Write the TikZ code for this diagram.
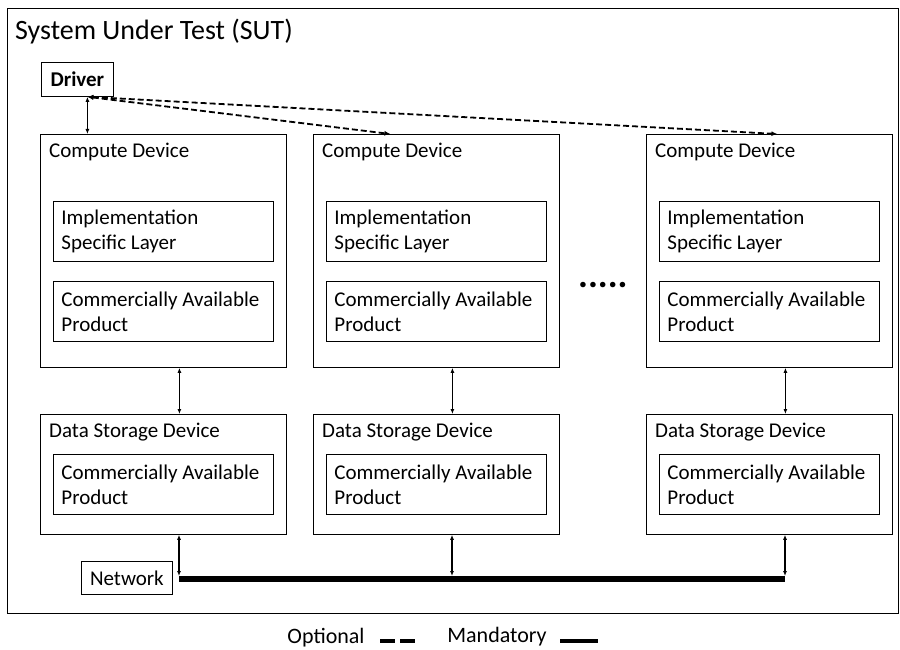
\documentclass[tikz,border=0pt]{standalone}
\usepackage{fontspec}
\setmainfont{Carlito}
\usetikzlibrary{arrows.meta}

\begin{document}
\begin{tikzpicture}[x=1pt, y=-1pt,
    box/.style={draw, line width=0.8pt, rectangle, inner sep=0pt},
    lbl/.style={inner sep=0pt, font=\fontsize{21}{25}\selectfont},
    inbox/.style={draw, line width=0.8pt, minimum width=220pt, minimum height=60pt,
        text width=204pt, align=flush left, inner xsep=8pt, inner ysep=0pt, font=\fontsize{21}{25}\selectfont},
    biarrow/.style={{Latex[length=5pt,width=4pt]}-{Latex[length=5pt,width=4pt]}, line width=1.3pt},
    optional/.style={{Latex[length=6pt,width=5pt]}-{Latex[length=6pt,width=5pt]}, line width=1.8pt, dash pattern=on 6pt off 3pt},
    mandatory/.style={line width=6pt}]
    \useasboundingbox (0,0) rectangle (900,650);

    % frame of the SUT
    \node [box, minimum width=891pt, minimum height=605pt, anchor=north west] (sut) at (7,8) {};
    \node [lbl, anchor=west, font=\fontsize{28}{32}\selectfont] (title) at (15,32) {System Under Test (SUT)};

    \node [box, minimum width=72pt, minimum height=34pt, anchor=north west, font=\bfseries\fontsize{21}{25}\selectfont] (drv) at (41,62) {Driver};
    \coordinate (drvp) at ([xshift=10pt]drv.south);

    \foreach \i/\xl in {1/40, 2/313, 3/646} {
        % compute device
        \node [box, minimum width=246pt, minimum height=233pt, anchor=north west] (cd\i) at (\xl,134) {};
        \node [lbl, anchor=west] (cdt\i) at ([shift={(9pt,-18pt)}]cd\i.north west) {Compute Device};
        \node [inbox, anchor=north west] (isl\i) at ([shift={(13pt,-67pt)}]cd\i.north west) {Implementation\\Specific Layer};
        \node [inbox, anchor=north west] (cap\i) at ([shift={(13pt,-147pt)}]cd\i.north west) {Commercially Available\\Product};
        % data storage device
        \node [box, minimum width=246pt, minimum height=120pt, anchor=north west] (ds\i) at (\xl,414) {};
        \node [lbl, anchor=west] (dst\i) at ([shift={(9pt,-18pt)}]ds\i.north west) {Data Storage Device};
        \node [inbox, anchor=north west] (dcap\i) at ([shift={(13pt,-40pt)}]ds\i.north west) {Commercially Available\\Product};
        \coordinate (n\i) at (\xl+139,579);
        \draw [biarrow] ([xshift=16pt]cd\i.south) -- ([xshift=16pt]ds\i.north);
        \draw [biarrow, shorten >=3pt] (ds\i.south -| n\i) -- (n\i);
    }

    \node [lbl, anchor=base west, font=\bfseries\fontsize{37}{37}\selectfont] (dots) at (578,287) {.....};

    \draw [biarrow] (drvp) -- (drvp |- cd1.north);
    \draw [optional] (drvp) -- ([xshift=-46pt]cd2.north);
    \draw [optional] (drvp) -- ([xshift=8pt]cd3.north);

    % network
    \node [box, minimum width=91pt, minimum height=33pt, anchor=north west, font=\fontsize{21}{25}\selectfont] (net) at (81,561) {Network};
    \draw [mandatory] (n1) -- (n3);

    % legend
    \node [lbl, font=\fontsize{22}{26}\selectfont] (opt) at (326,638) {Optional};
    \node [lbl, font=\fontsize{22}{26}\selectfont] (man) at (497,637) {Mandatory};
    \coordinate (o1) at (380,641);
    \coordinate (o2) at (416,641);
    \coordinate (m1) at (560,641);
    \coordinate (m2) at (598,641);
    \draw [line width=4pt, dash pattern=on 15pt off 5pt] (o1) -- (o2);
    \draw [line width=4pt] (m1) -- (m2);
\end{tikzpicture}
\end{document}
